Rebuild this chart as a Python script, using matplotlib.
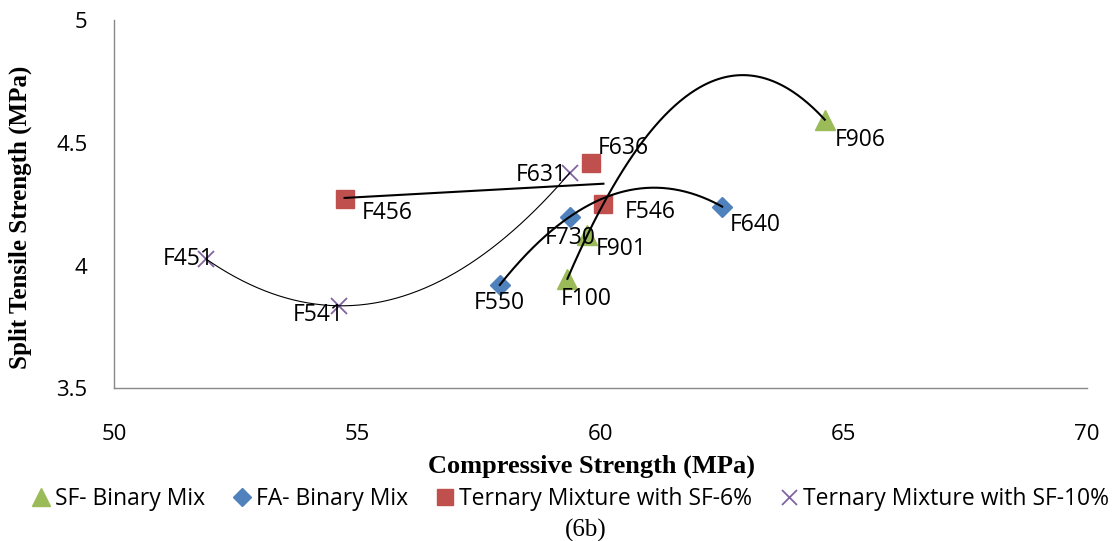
import numpy as np
import matplotlib.pyplot as plt

plt.rcParams['font.family'] = ['Open Sans', 'DejaVu Sans']

# SF- Binary Mix
sf_names = ['F100', 'F901', 'F906']
sf_x = [59.32, 59.73, 64.61]
sf_y = [3.946, 4.124, 4.594]

# FA- Binary Mix
fa_names = ['F550', 'F730', 'F640']
fa_x = [57.93, 59.37, 62.50]
fa_y = [3.921, 4.199, 4.240]

# Ternary Mixture with SF-6%
t6_names = ['F456', 'F636', 'F546']
t6_x = [54.74, 59.80, 60.06]
t6_y = [4.271, 4.419, 4.249]

# Ternary Mixture with SF-10%
t10_names = ['F451', 'F541', 'F631']
t10_x = [51.89, 54.63, 59.37]
t10_y = [4.027, 3.836, 4.378]

# label placement (ha, dx px, dy px)
label_pos = {
    'F906': ('left', 10, -20), 'F901': ('left', 8, -14), 'F100': ('left', -7, -20),
    'F550': ('center', 0, -18), 'F730': ('center', 0, -21), 'F640': ('left', 8, -18),
    'F546': ('left', 21, -8), 'F636': ('left', 7, 15), 'F456': ('left', 17, -14),
    'F631': ('right', -3, -2), 'F451': ('right', 8, 0), 'F541': ('right', 4, -9),
}

fig = plt.figure(figsize=(11.17, 5.41), dpi=100)
ax = fig.add_axes([114 / 1117, 1 - 388.3 / 541, (1087 - 114) / 1117, (388.3 - 20) / 541])

series = [
    ('SF- Binary Mix', sf_names, sf_x, sf_y, '^', '#9BBB59', 14, 2, 1.5),
    ('FA- Binary Mix', fa_names, fa_x, fa_y, 'D', '#4F81BD', 10, 2, 1.5),
    ('Ternary Mixture with SF-6%', t6_names, t6_x, t6_y, 's', '#C0504D', 13.5, 1, 1.5),
    ('Ternary Mixture with SF-10%', t10_names, t10_x, t10_y, 'x', '#8064A2', 12, 2, 0.8),
]

handles = []
for label, names, xs, ys, mk, col, ms, deg, lw in series:
    if mk == 'x':
        h, = ax.plot(xs, ys, ls='none', marker=mk, ms=ms, mec=col, mew=1.3, zorder=2, label=label)
    else:
        h, = ax.plot(xs, ys, ls='none', marker=mk, ms=ms, mfc=col, mec=col, zorder=2, label=label)
    handles.append(h)
    # trendline
    coef = np.polyfit(xs, ys, deg)
    xx = np.linspace(min(xs), max(xs), 200)
    ax.plot(xx, np.polyval(coef, xx), color='black', lw=lw, zorder=3)
    for n, x, y in zip(names, xs, ys):
        ha, dx, dy = label_pos[n]
        ax.annotate(n, (x, y), xytext=(dx, dy), textcoords='offset pixels',
                    ha=ha, va='center', fontsize=16.5, zorder=4)

ax.set_xlim(50, 70)
ax.set_ylim(3.5, 5)
ax.set_xticks([50, 55, 60, 65, 70])
ax.set_yticks([3.5, 4, 4.5, 5])
ax.set_yticklabels(['3.5', '4', '4.5', '5'])
ax.tick_params(axis='both', length=0, labelsize=16)
ax.tick_params(axis='x', pad=26)
ax.tick_params(axis='y', pad=19)
for s in ['top', 'right']:
    ax.spines[s].set_visible(False)
for s in ['left', 'bottom']:
    ax.spines[s].set_color('#898989')
    ax.spines[s].set_linewidth(1.0)

fig.text(591 / 1117, 1 - 466 / 541, 'Compressive Strength (MPa)', ha='center', va='center',
         family='Liberation Serif', weight='bold', fontsize=19)
fig.text(20 / 1117, 1 - 217 / 541, 'Split Tensile Strength (MPa)', ha='center', va='center',
         rotation=90, family='Liberation Serif', weight='bold', fontsize=18)

fig.legend(handles=handles, loc='center', bbox_to_anchor=(569 / 1117, 1 - 499 / 541), ncol=4,
           frameon=False, fontsize=16.5, handletextpad=0.1, columnspacing=1.12, handlelength=1.0,
           markerscale=0.9, borderpad=0, borderaxespad=0)

fig.text(586 / 1117, 1 - 530 / 541, '(6b)', ha='center', va='center',
         family='Liberation Serif', fontsize=18)

fig.savefig('out.png', dpi=100)
